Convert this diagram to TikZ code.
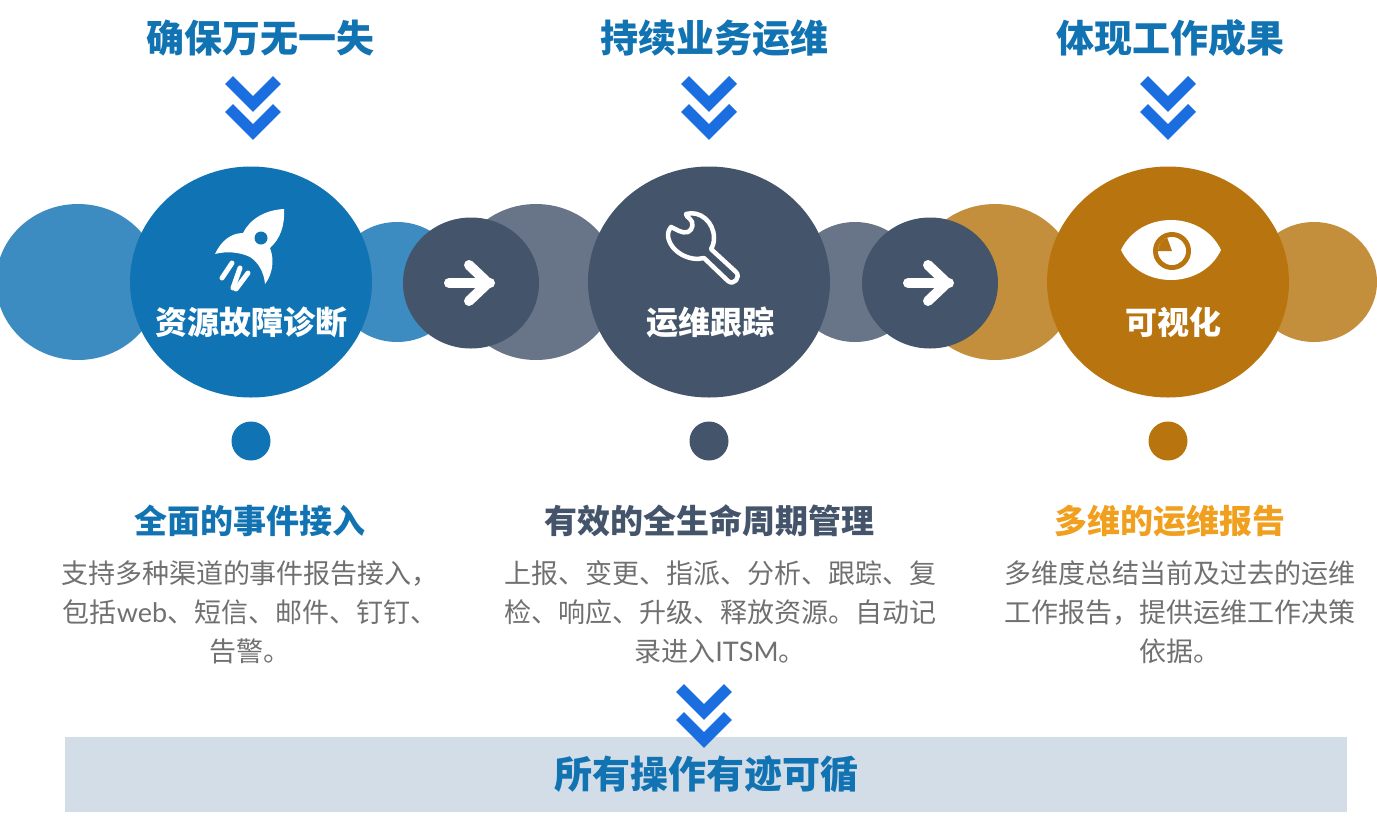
\documentclass[tikz,border=0pt]{standalone}
\usepackage{fontspec}
\usepackage{xcolor}
\usepackage{tikz}
\usetikzlibrary{shapes.geometric, positioning}
\newfontfamily\cjk{Noto Sans CJK SC}
\newfontfamily\lato{Lato}
\definecolor{blueM}{RGB}{16,115,180}
\definecolor{blueL}{RGB}{61,140,193}
\definecolor{slate}{RGB}{68,84,106}
\definecolor{grayL}{RGB}{104,117,137}
\definecolor{orangeM}{RGB}{184,116,14}
\definecolor{orangeL}{RGB}{196,143,60}
\definecolor{orangeH}{RGB}{240,160,30}
\definecolor{blueH}{RGB}{18,115,179}
\definecolor{chev}{RGB}{26,110,224}
\definecolor{barfill}{RGB}{211,221,232}
\definecolor{bodyG}{RGB}{112,112,112}

\begin{document}
\begin{tikzpicture}[x=1pt, y=-1pt, every node/.style={font=\cjk}]

	\useasboundingbox (0,0) rectangle (1377,820);

	\foreach \cx/\lt/\nm in {251/blueL/a, 709/grayL/b, 1168/orangeL/c}
	{
	\node [ellipse, fill=\lt, minimum width=164, minimum height=156] (back\nm) at (\cx-173, 282) {};
	\node [ellipse, fill=\lt, minimum width=126, minimum height=120] (side\nm) at (\cx+146, 282) {};
	}

	\foreach \cx/\dk/\nm in {251/blueM/a, 709/slate/b, 1168/orangeM/c}
	{
	\node [ellipse, fill=\dk, minimum width=242, minimum height=231] (main\nm) at (\cx, 282) {};
	\node [circle, fill=\dk, minimum size=39] (dot\nm) at (\cx, 441) {};
	}

	\foreach \ax/\nm in {471/1, 930/2}
	{
	\node [ellipse, fill=slate, minimum width=136, minimum height=131] (arr\nm) at (\ax, 283) {};
	\draw [white, line width=10, line cap=round, line join=round] ([xshift=-22pt]arr\nm.center) -- ([xshift=19pt]arr\nm.center);
	\draw [white, line width=10, line cap=round, line join=round] ([shift={(-2,-18)}]arr\nm.center) -- ([xshift=17pt]arr\nm.center) -- ([shift={(-2,18)}]arr\nm.center);
	}

	\fill [white] (284,209) .. controls (285,226) and (280,239) .. (270,248) .. controls (275,261) and (272,275) .. (265,284) .. controls (264,272) and (258,262) .. (250,257) .. controls (240,252) and (226,251) .. (215,254) .. controls (221,241) and (231,233) .. (243,233) .. controls (250,219) and (265,210) .. (284,209) -- cycle;
	\fill [blueM] (261,238) circle (6.5);
	\foreach \sx/\sy/\tx/\ty in {232/263/222/278, 240/268/233/288, 248/273/236/289}
	\draw [white, line width=5, line cap=round] (\sx,\sy) -- (\tx,\ty);

	\draw [white, line width=4.5, line join=round] (686,214) .. controls (700,210) and (714,222) .. (714,238) .. controls (714,242) and (713,246) .. (711,249) -- (736,272) .. controls (741,277) and (734,286) .. (728,281) -- (704,258) .. controls (690,262) and (670,252) .. (668,236) .. controls (668,232) and (669,229) .. (671,227) .. controls (676,229) and (682,234) .. (688,232) .. controls (693,230) and (694,222) .. (690,219) .. controls (688,217) and (686,216) .. (686,214) -- cycle;

	\fill [white] (1121,250) .. controls (1140,210) and (1202,210) .. (1221,250) .. controls (1202,290) and (1140,290) .. (1121,250) -- cycle;
	\fill [orangeM] (1172,251) circle (19);
	\fill [white] (1172,251) circle (14);
	\fill [orangeM] (1172,251) -- ++(180:14) arc (180:250:14) -- cycle;

	\node [white, font=\cjk\bfseries\fontsize{32}{38}\selectfont] (lbla) at (251,322) {资源故障诊断};
	\node [white, font=\cjk\bfseries\fontsize{32}{38}\selectfont] (lblb) at (710,322) {运维跟踪};
	\node [white, font=\cjk\bfseries\fontsize{32}{38}\selectfont] (lblc) at (1173,322) {可视化};

	\node [text=blueH, font=\cjk\bfseries\fontsize{38}{44}\selectfont] (topa) at (260,38) {确保万无一失};
	\node [text=blueH, font=\cjk\bfseries\fontsize{38}{44}\selectfont] (topb) at (714,38) {持续业务运维};
	\node [text=blueH, font=\cjk\bfseries\fontsize{38}{44}\selectfont] (topc) at (1170,38) {体现工作成果};

	\node [text=blueH, font=\cjk\bfseries\fontsize{33}{40}\selectfont] (heada) at (250,521) {全面的事件接入};
	\node [text=slate, font=\cjk\bfseries\fontsize{33}{40}\selectfont] (headb) at (709,521) {有效的全生命周期管理};
	\node [text=orangeH, font=\cjk\bfseries\fontsize{33}{40}\selectfont] (headc) at (1170,521) {多维的运维报告};

	\node [text=bodyG, align=center, font=\cjk\fontsize{27}{39}\selectfont] (bodya) at (250,612) {支持多种渠道的事件报告接入，\\包括{\lato web}、短信、邮件、钉钉、\\告警。};
	\node [text=bodyG, align=center, font=\cjk\fontsize{27}{39}\selectfont] (bodyb) at (720,612) {上报、变更、指派、分析、跟踪、复\\检、响应、升级、释放资源。自动记\\录进入{\lato ITSM}。};
	\node [text=bodyG, align=center, font=\cjk\fontsize{27}{39}\selectfont] (bodyc) at (1180,612) {多维度总结当前及过去的运维\\工作报告，提供运维工作决策\\依据。};

	\node [fill=barfill, minimum width=1282, minimum height=75, text=blueH, font=\cjk\bfseries\fontsize{38}{44}\selectfont] (bar) at (706,774.5) {所有操作有迹可循};

	\foreach \vx/\vy in {253/104, 709/104, 1168/104, 704/712}
	\foreach \k in {0, 28}
	{
	\draw [chev, line width=11] (\vx-24, \vy+\k-24) -- (\vx, \vy+\k) -- (\vx+24, \vy+\k-24);
	}

\end{tikzpicture}
\end{document}
